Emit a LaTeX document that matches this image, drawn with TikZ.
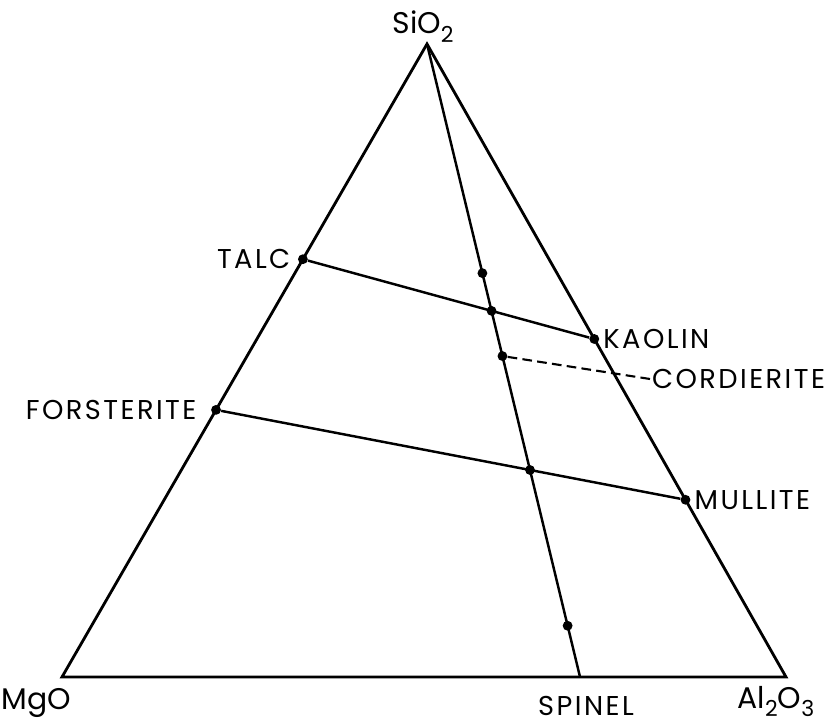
\documentclass[tikz,border=0pt]{standalone}
\usepackage{fontspec}
\newfontfamily\labelfont[LetterSpace=9]{Poppins}
\newfontfamily\oxidefont{Poppins}
\newcommand{\oxsub}[1]{\raisebox{-0.3em}{\fontsize{12.5}{14}\selectfont #1}}
\usetikzlibrary{positioning,calc}

\begin{document}
\begin{tikzpicture}[x=0.02cm,y=-0.02cm,
  edge/.style={line width=1.6pt, line join=miter},
  tie/.style={line width=1.4pt},
  dot/.style={circle, fill, inner sep=0pt, minimum size=5.6pt},
  mineral/.style={font=\labelfont\fontsize{15.5}{18}\selectfont, inner sep=1pt},
  oxide/.style={font=\oxidefont\fontsize{17}{20}\selectfont, inner sep=0pt}]
  \useasboundingbox (0,0) rectangle (827,722);

  % corners of the triangle
  \coordinate (sio2) at (427,44);
  \coordinate (mgo) at (62,677);
  \coordinate (al2o3) at (786,677);
  \draw[edge] (mgo) -- (sio2) -- (al2o3) -- cycle;

  \node[oxide, anchor=base] (sio2lbl) at (423,34) {SiO\oxsub{2}};
  \node[oxide, anchor=base] (mgolbl) at (36,709) {MgO};
  \node[oxide, anchor=base] (al2o3lbl) at (776,708) {Al\oxsub{2}O\oxsub{3}};

  % compounds on the edges
  \node[dot] (talc) at ($(mgo)!0.660!(sio2)$) {};
  \node[dot] (forst) at ($(mgo)!0.422!(sio2)$) {};
  \node[dot] (kaolin) at ($(sio2)!0.466!(al2o3)$) {};
  \node[dot] (mullite) at ($(sio2)!0.720!(al2o3)$) {};
  \coordinate (spinel) at ($(mgo)!0.7155!(al2o3)$);

  \draw[tie] (talc) -- (kaolin);
  \draw[tie] (forst) -- (mullite);
  \draw[tie] (sio2) -- (spinel);

  % points on the SiO2--spinel join
  \node[dot] (p1) at ($(sio2)!0.362!(spinel)$) {};
  \node[dot] (p2) at (intersection of talc--kaolin and sio2--spinel) {};
  \node[dot] (cord) at ($(sio2)!0.493!(spinel)$) {};
  \node[dot] (p4) at (intersection of forst--mullite and sio2--spinel) {};
  \node[dot] (p5) at ($(sio2)!0.919!(spinel)$) {};

  \node[mineral, left=3pt of talc] (talclbl) {TALC};
  \node[mineral, left=7pt of forst] (forstlbl) {FORSTERITE};
  \node[mineral, right=1pt of kaolin] (kaolinlbl) {KAOLIN};
  \node[mineral, right=1pt of mullite] (mullitelbl) {MULLITE};
  \node[mineral, anchor=west] (cordlbl) at (650,379) {CORDIERITE};
  \node[mineral, anchor=base] (spinellbl) at (586,715) {SPINEL};

  \draw[line width=1.2pt, dash pattern=on 5.5pt off 3pt] (cord) -- (cordlbl.west);
\end{tikzpicture}
\end{document}
